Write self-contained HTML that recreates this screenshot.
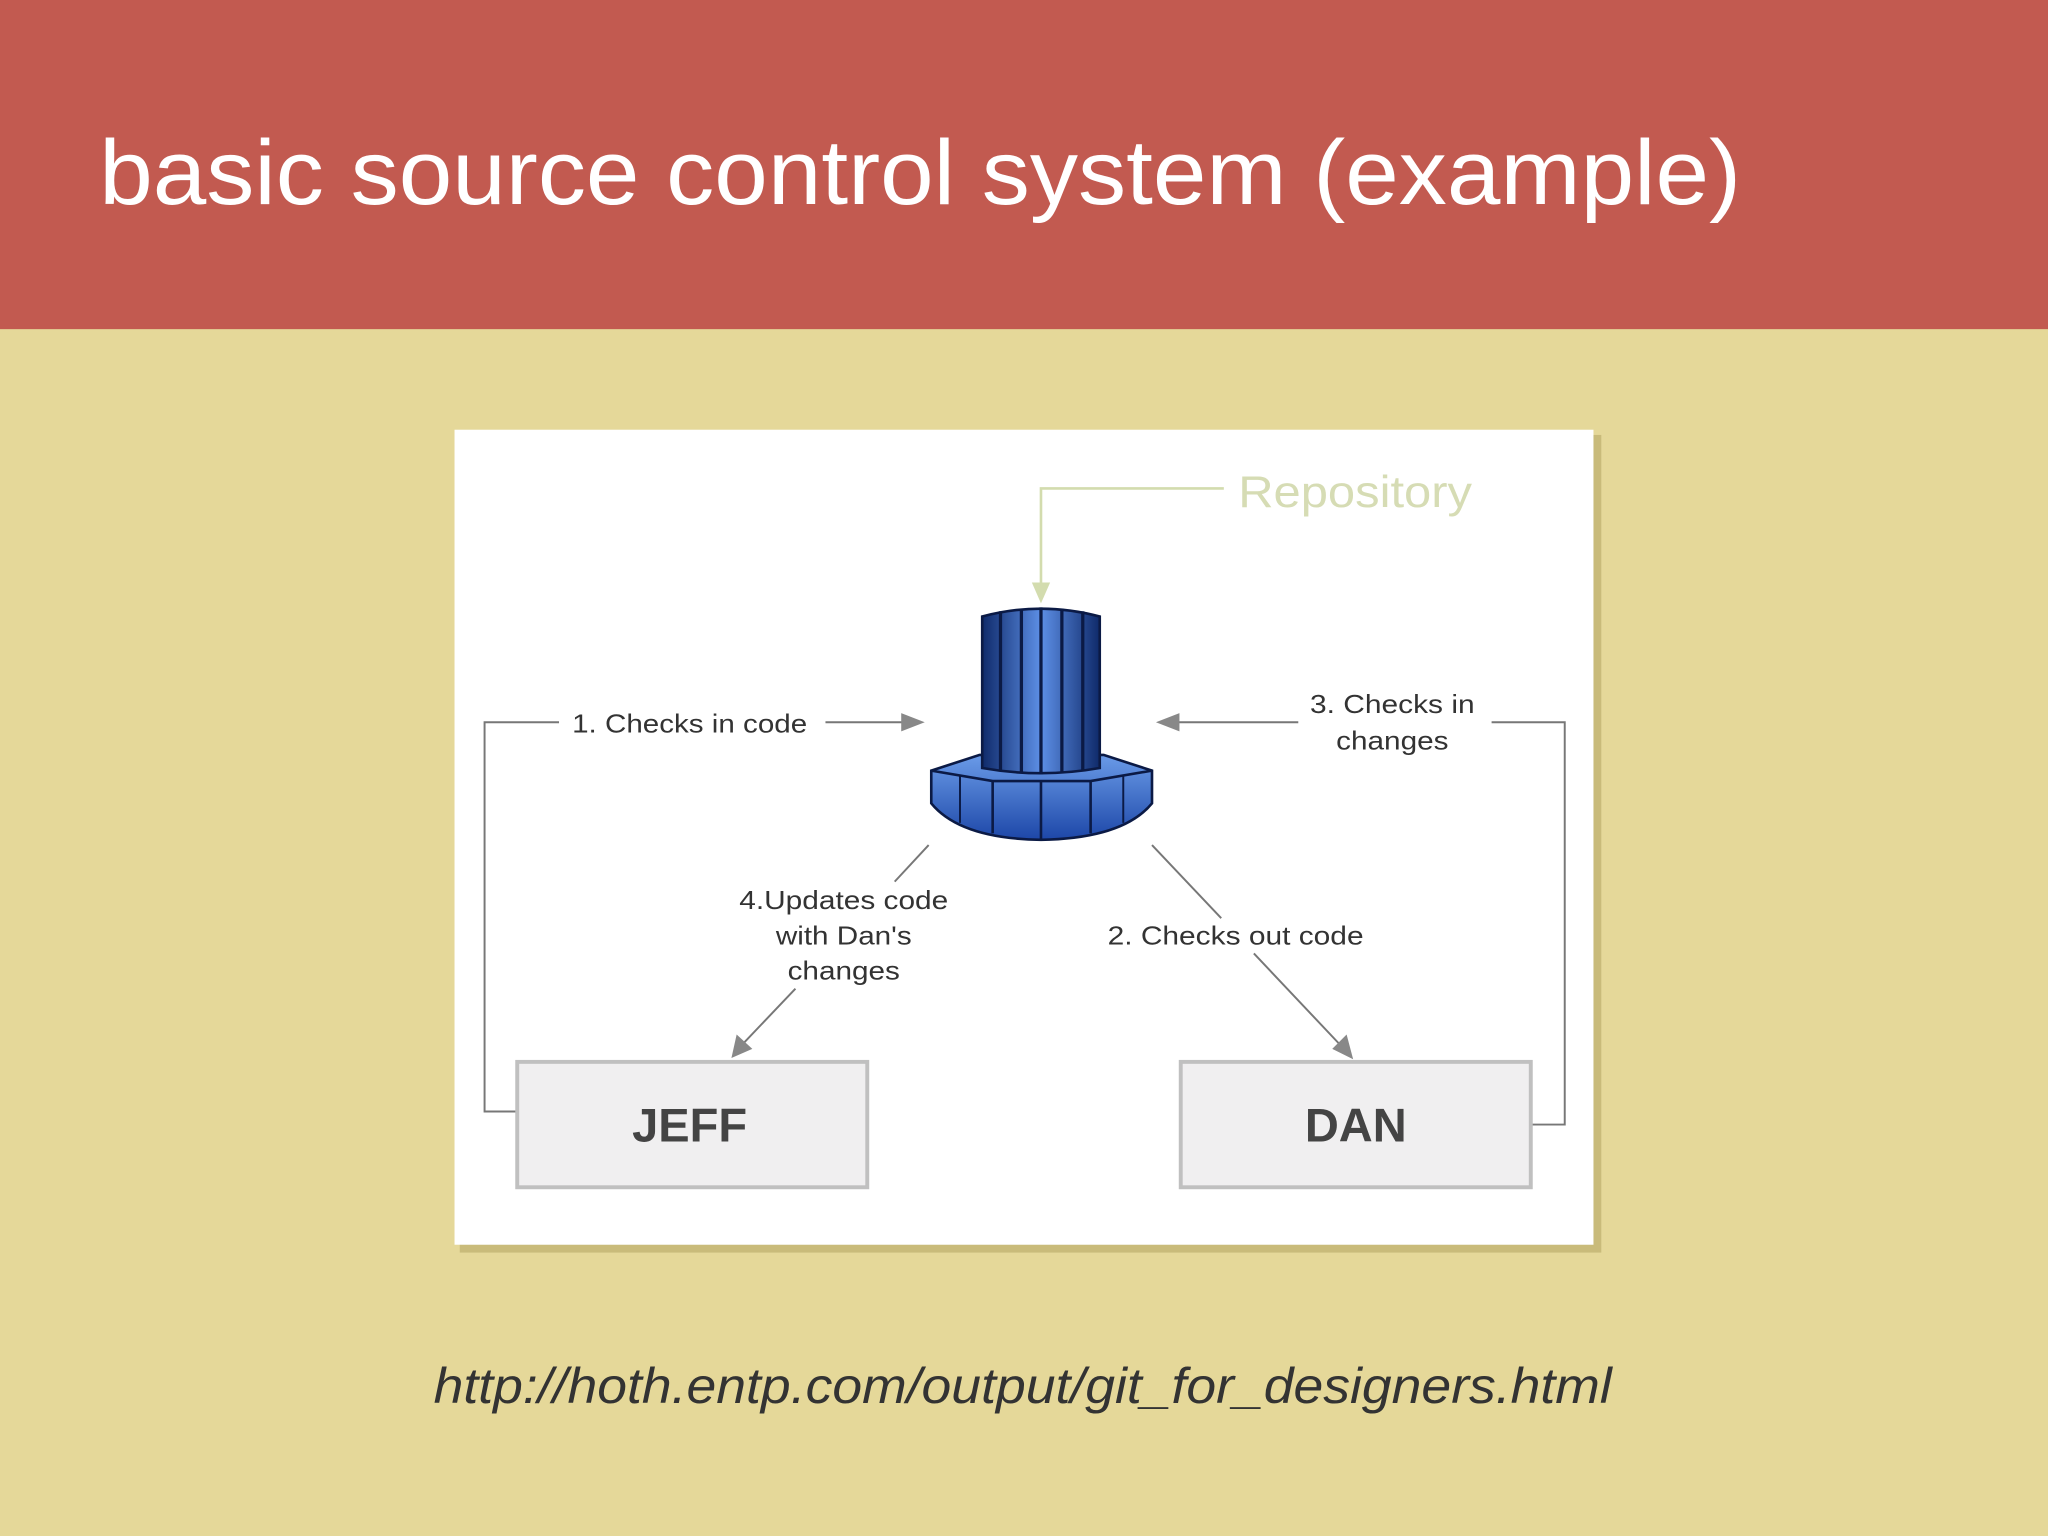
<!DOCTYPE html>
<html><head><meta charset="utf-8"><style>
html,body{margin:0;padding:0;width:2048px;height:1536px;overflow:hidden;background:#E5D899}
svg{display:block}
</style></head><body>
<svg width="2048" height="1536" viewBox="0 0 1568 1176" xmlns="http://www.w3.org/2000/svg">
<defs>
<linearGradient id="col" x1="0" x2="1" y1="0" y2="0">
<stop offset="0" stop-color="#0f2a6a"/><stop offset="0.5" stop-color="#5d8fe6"/><stop offset="1" stop-color="#0f2a6a"/>
</linearGradient>
<linearGradient id="base" x1="0" x2="0" y1="0" y2="1">
<stop offset="0" stop-color="#6a9be8"/><stop offset="1" stop-color="#1d47a8"/>
</linearGradient>
</defs>
<rect x="0" y="0" width="1568" height="1176" fill="#E5D899"/>
<rect x="0" y="0" width="1568" height="252" fill="#C25A50"/>
<text x="76" y="156" font-family="Liberation Sans, sans-serif" font-size="70" fill="#fff" textLength="1257" lengthAdjust="spacingAndGlyphs">basic source control system (example)</text>

<rect x="352" y="333" width="874" height="626" fill="#c9bb7a"/>
<rect x="348" y="329" width="872" height="624" fill="#fff"/>

<polyline points="937,374 797,374 797,450" fill="none" stroke="#d3dcae" stroke-width="2"/>
<polygon points="790,446 804,446 797,462" fill="#d3dcae"/>
<text x="948" y="388" font-family="Liberation Sans, sans-serif" font-size="34" fill="#d6dcb4" textLength="179" lengthAdjust="spacingAndGlyphs">Repository</text>

<path d="M713,590 L750,578 L845,578 L882,590 L882,615 Q860,642 797,643 Q735,642 713,615 Z" fill="url(#base)" stroke="#0b1a45" stroke-width="2"/>
<path d="M713,590 L760,598 L835,598 L882,590" fill="none" stroke="#0b1a45" stroke-width="2"/>
<line x1="760" y1="598" x2="760" y2="638" stroke="#0b1a45" stroke-width="2"/>
<line x1="835" y1="598" x2="835" y2="638" stroke="#0b1a45" stroke-width="2"/>
<line x1="797" y1="598" x2="797" y2="643" stroke="#0b1a45" stroke-width="2"/>
<line x1="735" y1="594" x2="735" y2="630" stroke="#0b1a45" stroke-width="1.5"/>
<line x1="860" y1="594" x2="860" y2="630" stroke="#0b1a45" stroke-width="1.5"/>
<path d="M752,472 Q797,460 842,472 L842,588 Q797,596 752,588 Z" fill="url(#col)" stroke="#0b1a45" stroke-width="2"/>
<g stroke="#0b1a45" stroke-width="2.5">
<line x1="766" y1="468" x2="766" y2="590"/><line x1="782" y1="466" x2="782" y2="592"/>
<line x1="797" y1="465" x2="797" y2="593"/><line x1="813" y1="466" x2="813" y2="592"/>
<line x1="829" y1="468" x2="829" y2="590"/>
</g>

<g font-family="Liberation Sans, sans-serif" font-size="20" fill="#333" text-anchor="middle" lengthAdjust="spacingAndGlyphs">
<text x="528" y="561" textLength="180" lengthAdjust="spacingAndGlyphs">1. Checks in code</text>
<text x="1066" y="546" textLength="126" lengthAdjust="spacingAndGlyphs">3. Checks in</text>
<text x="1066" y="574" textLength="86" lengthAdjust="spacingAndGlyphs">changes</text>
<text x="646" y="696" textLength="160" lengthAdjust="spacingAndGlyphs">4.Updates code</text>
<text x="646" y="723" textLength="104" lengthAdjust="spacingAndGlyphs">with Dan's</text>
<text x="646" y="750" textLength="86" lengthAdjust="spacingAndGlyphs">changes</text>
<text x="946" y="723" textLength="196" lengthAdjust="spacingAndGlyphs">2. Checks out code</text>
</g>

<g stroke="#777" stroke-width="1.5" fill="none">
<polyline points="428,553 371,553 371,851 396,851"/>
<line x1="632" y1="553" x2="696" y2="553"/>
<polyline points="1142,553 1198,553 1198,861 1172,861"/>
<line x1="994" y1="553" x2="900" y2="553"/>
<line x1="711" y1="647" x2="685" y2="675"/>
<line x1="609" y1="757" x2="568" y2="800"/>
<line x1="882" y1="647" x2="935" y2="703"/>
<line x1="960" y1="730" x2="1028" y2="802"/>
</g>
<g fill="#888">
<polygon points="708,553 690,546 690,560"/>
<polygon points="885,553 903,546 903,560"/>
<polygon points="560,810 564,792 576,803"/>
<polygon points="1036,811 1020,803 1031,792"/>
</g>

<rect x="396" y="813" width="268" height="96" fill="#f0eff0" stroke="#c0c0c0" stroke-width="3"/>
<rect x="904" y="813" width="268" height="96" fill="#f0eff0" stroke="#c0c0c0" stroke-width="3"/>
<g font-family="Liberation Sans, sans-serif" font-size="36" font-weight="bold" fill="#444" text-anchor="middle">
<text x="528" y="874">JEFF</text>
<text x="1038" y="874">DAN</text>
</g>

<text x="332" y="1074" font-family="Liberation Sans, sans-serif" font-style="italic" font-size="38" fill="#333" textLength="902" lengthAdjust="spacingAndGlyphs">http://hoth.entp.com/output/git_for_designers.html</text>
</svg>
</body></html>
